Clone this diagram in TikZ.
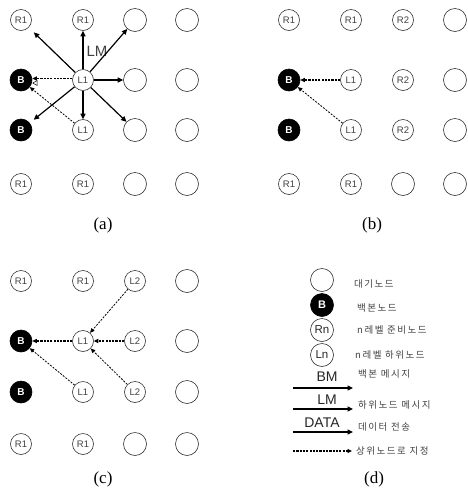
\documentclass[tikz,border=0pt]{standalone}
\usepackage{fontspec}
\setsansfont{Liberation Sans}
\setmainfont{Liberation Serif}
\newfontfamily\kr[LetterSpace=16]{Noto Sans CJK KR}
\usetikzlibrary{arrows.meta}
\definecolor{ln}{HTML}{333333}
\definecolor{tx}{HTML}{404040}
\begin{document}
\begin{tikzpicture}[x=1pt,y=-1pt,
  nd/.style={circle, draw=ln, line width=0.6pt, inner sep=0pt, minimum size=21pt,
    font=\sffamily\fontsize{9.5}{9.5}\selectfont, text=tx},
  em/.style={nd, minimum size=23pt},
  bb/.style={nd, minimum size=22pt, fill=black, draw=black, text=white,
    font=\sffamily\bfseries\fontsize{10}{10}\selectfont},
  lg/.style={nd, minimum size=23pt, font=\sffamily\fontsize{11.5}{11.5}\selectfont, text=black!85},
  sa/.style={-{Triangle[length=5.5pt,width=5pt]}, line width=1.2pt, draw=black},
  da/.style={-{Triangle[length=4.5pt,width=4pt]}, line width=0.8pt, dash pattern=on 2pt off 1.3pt},
  dt/.style={da, line width=1.1pt, dash pattern=on 2.2pt off 1.1pt},
  captxt/.style={font=\rmfamily\fontsize{17}{17}\selectfont},
  ktx/.style={anchor=west, inner sep=0pt, text=tx, font=\kr\fontsize{9.5}{9.5}\selectfont},
  mtx/.style={inner sep=0pt, text=black!85, font=\sffamily\fontsize{14}{14}\selectfont}
]
\useasboundingbox (0,0) rectangle (467,499);
% ---------- panel (a)
\node[nd] (a11) at (21,20) {R1};
\node[nd] (a12) at (83,20) {R1};
\node[em] (a13) at (135,20) {};
\node[em] (a14) at (187,20) {};
\node[bb] (a21) at (21,80) {B};
\node[nd] (a22) at (83,80) {L1};
\node[em] (a23) at (135,80) {};
\node[em] (a24) at (187,80) {};
\node[bb] (a31) at (21,130) {B};
\node[nd] (a32) at (83,130) {L1};
\node[em] (a33) at (135,130) {};
\node[em] (a34) at (187,130) {};
\node[nd] (a41) at (21,184) {R1};
\node[nd] (a42) at (83,184) {R1};
\node[em] (a43) at (135,184) {};
\node[em] (a44) at (187,184) {};
\node[captxt] (ca) at (103,225) {(a)};
\node[mtx, text=tx, font=\sffamily\fontsize{15}{15}\selectfont] (lma) at (97,51) {LM};
\draw[sa] (a22) -- (a12);
\draw[sa, shorten >=7pt] (a22) -- (a11);
\draw[sa] (a22) -- (a13);
\draw[sa] (a22) -- (a23);
\draw[sa] (a22) -- (a33);
\draw[sa] (a22) -- (a32);
\draw[sa, shorten >=5pt] (a22) -- (a31);
\draw[-{Triangle[length=5pt,width=5.5pt,open]}, double=white, double distance=1.4pt, line width=0.5pt]
  ([yshift=-3pt]a22.west) -- ([yshift=-3pt]a21.east);
\draw[dt] ([yshift=1.5pt]a22.west) -- ([yshift=1.5pt]a21.east);
\draw[da] (a32) -- (a21);
% ---------- panel (b)
\node[nd] (b11) at (289,20) {R1};
\node[nd] (b12) at (351,20) {R1};
\node[nd] (b13) at (403,20) {R2};
\node[em] (b14) at (455,20) {};
\node[bb] (b21) at (289,80) {B};
\node[nd] (b22) at (351,80) {L1};
\node[nd] (b23) at (403,80) {R2};
\node[em] (b24) at (455,80) {};
\node[bb] (b31) at (289,130) {B};
\node[nd] (b32) at (351,130) {L1};
\node[nd] (b33) at (403,130) {R2};
\node[em] (b34) at (455,130) {};
\node[nd] (b41) at (289,184) {R1};
\node[nd] (b42) at (351,184) {R1};
\node[em] (b43) at (403,184) {};
\node[em] (b44) at (455,184) {};
\node[captxt] (cb) at (372,225) {(b)};
\draw[dt] (b22) -- (b21);
\draw[da] (b32) -- (b21);
% ---------- panel (c)
\node[nd] (c11) at (21,281) {R1};
\node[nd] (c12) at (83,281) {R1};
\node[nd] (c13) at (135,281) {L2};
\node[em] (c14) at (187,281) {};
\node[bb] (c21) at (21,341) {B};
\node[nd] (c22) at (83,341) {L1};
\node[nd] (c23) at (135,341) {L2};
\node[em] (c24) at (187,341) {};
\node[bb] (c31) at (21,392) {B};
\node[nd] (c32) at (83,392) {L1};
\node[nd] (c33) at (135,392) {L2};
\node[em] (c34) at (187,392) {};
\node[nd] (c41) at (21,444) {R1};
\node[nd] (c42) at (83,444) {R1};
\node[em] (c43) at (135,444) {};
\node[em] (c44) at (187,444) {};
\node[captxt] (cc) at (103,479) {(c)};
\draw[dt] (c22) -- (c21);
\draw[da] (c32) -- (c21);
\draw[da] (c13) -- (c22);
\draw[dt] (c23) -- (c22);
\draw[da] (c33) -- (c22);
% ---------- panel (d) legend
\node[em] (d1) at (322,280) {};
\node[bb, minimum size=23pt, font=\sffamily\bfseries\fontsize{11}{11}\selectfont] (d2) at (322,305) {B};
\node[lg] (d3) at (322,330) {Rn};
\node[lg] (d4) at (322,355) {Ln};
\node[ktx] (t1) at (354,284) {대기노드};
\node[ktx] (t2) at (357,308) {백본노드};
\node[ktx] (t3) at (357,330) {n레벨 준비노드};
\node[ktx] (t4) at (355,355) {n레벨 하위노드};
\node[mtx] (m1) at (327,377) {BM};
\coordinate (s1) at (293,388);
\coordinate (e1) at (353,388);
\draw[sa] (s1) -- (e1);
\node[ktx] (t5) at (358,374) {백본 메시지};
\node[mtx] (m2) at (327,400) {LM};
\coordinate (s2) at (293,409);
\coordinate (e2) at (353,409);
\draw[sa] (s2) -- (e2);
\node[ktx] (t6) at (358,405) {하위노드 메시지};
\node[mtx] (m3) at (322,423) {DATA};
\coordinate (s3) at (293,432);
\coordinate (e3) at (353,432);
\draw[sa] (s3) -- (e3);
\node[ktx] (t7) at (358,427) {데이터 전송};
\coordinate (s4) at (293,451);
\coordinate (e4) at (352,451);
\draw[dt, line width=1.2pt] (s4) -- (e4);
\node[ktx] (t8) at (356,451) {상위노드로 지정};
\node[captxt] (cd) at (374,479) {(d)};
\end{tikzpicture}
\end{document}
